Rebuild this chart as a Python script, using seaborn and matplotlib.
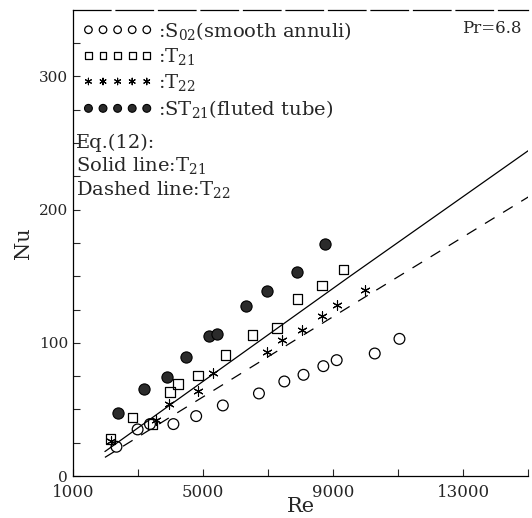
import matplotlib
matplotlib.use("Agg")
import matplotlib.pyplot as plt
import seaborn as sns

# ====
# data

re_s02 = [2340, 2990, 3370, 4090, 4790, 5610, 6720, 7500, 8090, 8700, 9110, 10280, 11040]
nu_s02 = [22, 35, 39, 39, 45, 53, 62, 71, 76, 82.5, 87, 92, 103]

re_t21 = [2160, 2830, 3450, 3990, 4240, 4850, 5690, 6520, 7270, 7910, 8650, 9320]
nu_t21 = [28, 44, 39, 63, 69, 75.5, 91, 106, 111, 133, 143, 155]

re_t22 = [2160, 3540, 3960, 4850, 5320, 6960, 7440, 8040, 8650, 9130, 9990]
nu_t22 = [26, 42, 54, 64, 77.5, 93, 102.5, 110, 120, 128.5, 140]

re_st21 = [2380, 3190, 3900, 4480, 5190, 5420, 6310, 6960, 7880, 8750]
nu_st21 = [47, 65, 74, 89, 105, 106.5, 128, 139, 153, 174]

# Eq.(12) correlation lines
re_eq = [1985, 9520, 15100]
nu_eq_t21 = [18.4, 150, 246]
nu_eq_t22 = [14, 127.5, 211]

x_ticks = [1000, 5000, 9000, 13000]
y_ticks = [0, 100, 200, 300]

# =====
# style

sns.set_style("ticks")
plt.rcParams["font.family"] = ["DejaVu Serif"]
plt.rcParams["mathtext.fontset"] = "dejavuserif"

fig = plt.figure(figsize=(5.32, 5.18), dpi=100)
ax = fig.add_axes([0.137, 0.081, 0.856, 0.900])

# ====
# plot

sns.scatterplot(x=re_s02, y=nu_s02, marker="o", s=60, facecolor="none",
                edgecolor="black", linewidth=0.9, ax=ax,
                label=r":S$_{02}$(smooth annuli)")
sns.scatterplot(x=re_t21, y=nu_t21, marker="s", s=48, facecolor="none",
                edgecolor="black", linewidth=0.9, ax=ax, label=r":T$_{21}$")
sns.scatterplot(x=re_t22, y=nu_t22, marker=(6, 2, 0), s=45, color="black",
                edgecolor="black", linewidth=0.8, ax=ax, label=r":T$_{22}$")
sns.scatterplot(x=re_st21, y=nu_st21, marker="o", s=65, facecolor="#2b2b2b",
                edgecolor="black", linewidth=0.8, ax=ax,
                label=r":ST$_{21}$(fluted tube)")

sns.lineplot(x=re_eq, y=nu_eq_t21, color="black", linewidth=0.9, ax=ax,
             legend=False)
sns.lineplot(x=re_eq, y=nu_eq_t22, color="black", linewidth=0.9, ax=ax,
             linestyle=(0, (9, 8)), legend=False)

ax.set_xlim(1000, 15000)
ax.set_ylim(0, 350)
ax.set_xticks(x_ticks)
ax.set_xticks([3000, 7000, 11000, 15000], minor=True)
ax.set_yticks(y_ticks)
ax.set_yticks([25, 50, 75, 125, 150, 175, 225, 250, 275, 325], minor=True)
ax.tick_params(which="both", direction="in", length=5, width=0.8,
               labelsize=11)
ax.tick_params(axis="x", labelsize=12, pad=6)

ax.spines["right"].set_visible(False)
ax.spines["top"].set_linestyle((0, (30, 4)))
for s in ["left", "bottom", "top"]:
    ax.spines[s].set_linewidth(0.9)
    ax.spines[s].set_color("black")

ax.set_xlabel("Re", fontsize=15, labelpad=-3)
ax.set_ylabel("Nu", fontsize=15, labelpad=4)

leg = ax.legend(loc="upper left", frameon=False, scatterpoints=5,
                scatteryoffsets=[0.5], markerscale=0.7, fontsize=14,
                handlelength=3.6, handletextpad=0.3, labelspacing=0.25,
                borderaxespad=0.1, bbox_to_anchor=(0.0, 1.0))

ax.text(0.007, 0.735, "Eq.(12):\nSolid line:T$_{21}$\nDashed line:T$_{22}$",
        transform=ax.transAxes, fontsize=14, va="top", ha="left",
        linespacing=1.2)
ax.text(0.985, 0.96, "Pr=6.8", transform=ax.transAxes, fontsize=12,
        va="center", ha="right")

plt.savefig("out.png", dpi=100)
